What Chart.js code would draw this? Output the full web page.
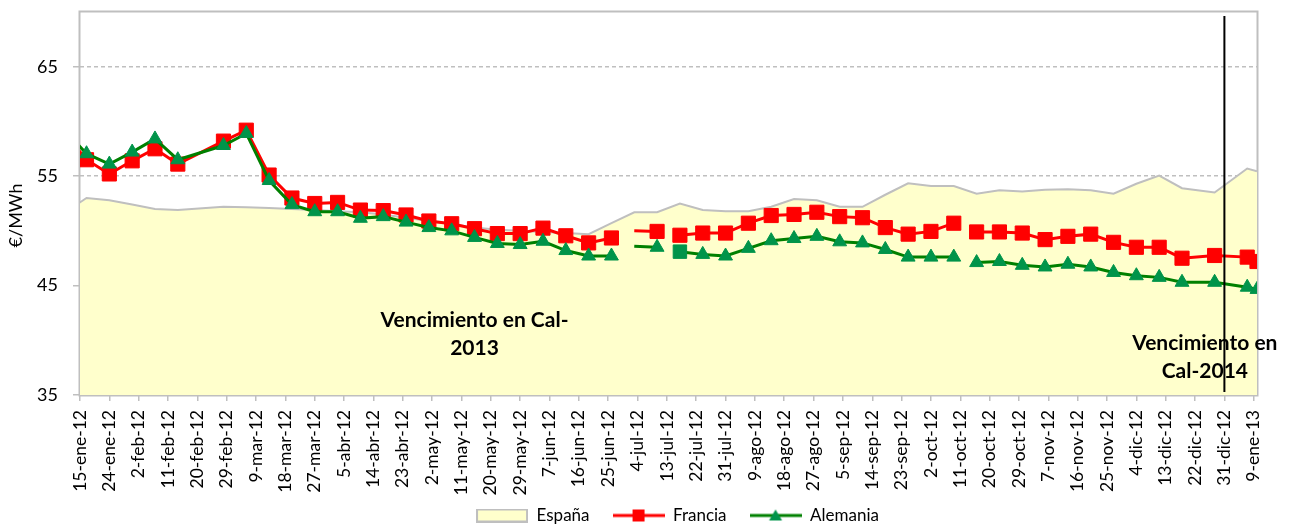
<!DOCTYPE html>
<html>
<head>
<meta charset="utf-8">
<title>Cal-13 España / Francia / Alemania</title>
<script src="https://cdn.jsdelivr.net/npm/chart.js@4.4.1/dist/chart.umd.min.js"></script>
<style>
  html, body { margin: 0; padding: 0; background: #ffffff; }
  #wrap { width: 1289px; height: 526px; }
</style>
</head>
<body>
<div id="wrap"><canvas id="grafico" width="1289" height="526"></canvas></div>
<script>
// Fechas de cotizacion (la primera queda fuera del eje, los null cortan la linea)
var fechas = [
  '10-ene-12', '17-ene-12', '24-ene-12', '31-ene-12', '7-feb-12', '14-feb-12',
  '28-feb-12', '6-mar-12', '13-mar-12', '20-mar-12', '27-mar-12', '3-abr-12',
  '10-abr-12', '17-abr-12', '24-abr-12', '1-may-12', '8-may-12', '15-may-12',
  '22-may-12', '29-may-12', '5-jun-12', '12-jun-12', '19-jun-12', '26-jun-12',
  '29-jun-12', '3-jul-12', '10-jul-12', '13-jul-12', '17-jul-12', '24-jul-12',
  '31-jul-12', '7-ago-12', '14-ago-12', '21-ago-12', '28-ago-12', '4-sep-12',
  '11-sep-12', '18-sep-12', '25-sep-12', '2-oct-12', '9-oct-12', '12-oct-12',
  '16-oct-12', '23-oct-12', '30-oct-12', '6-nov-12', '13-nov-12', '20-nov-12',
  '27-nov-12', '4-dic-12', '11-dic-12', '18-dic-12', '28-dic-12', '7-ene-13',
  '10-ene-13'
];

var espana = [
  51.6, 53.0, 52.8, 52.4, 52.0, 51.9,
  52.2, 52.15, 52.1, 52.0, 51.9, 51.8,
  51.7, 51.5, 51.2, 50.9, 50.6, 50.3,
  50.1, 50.0, 49.9, 49.8, 49.7, 50.7,
  null, 51.7, 51.7, null, 52.5, 51.9,
  51.8, 51.8, 52.2, 52.9, 52.8, 52.2,
  52.2, 53.3, 54.35, 54.1, 54.1, null,
  53.4, 53.7, 53.6, 53.75, 53.8, 53.7,
  53.4, 54.3, 55.05, 53.9, 53.5, 55.7,
  55.45
];

var francia = [
  59.0, 56.5, 55.2, 56.4, 57.5, 56.1,
  58.2, 59.2, 55.1, 53.0, 52.5, 52.6,
  51.9, 51.85, 51.45, 50.9, 50.65, 50.2,
  49.75, 49.75, 50.25, 49.55, 48.9, 49.35,
  null, 50.0, 49.95, null, 49.6, 49.8,
  49.8, 50.7, 51.4, 51.5, 51.7, 51.3,
  51.2, 50.3, 49.7, 49.95, 50.7, null,
  49.9, 49.9, 49.8, 49.2, 49.5, 49.7,
  48.95, 48.5, 48.5, 47.5, 47.75, 47.6,
  47.2
];

var alemania = [
  59.3, 57.05, 56.1, 57.2, 58.4, 56.5,
  57.8, 58.9, 54.6, 52.4, 51.75, 51.75,
  51.15, 51.3, 50.8, 50.3, 50.0, 49.4,
  48.85, 48.75, 49.05, 48.2, 47.7, 47.7,
  null, 48.6, 48.5, null, 48.1, 47.85,
  47.7, 48.4, 49.1, 49.3, 49.5, 49.0,
  48.9, 48.3, 47.6, 47.6, 47.6, null,
  47.1, 47.2, 46.85, 46.7, 46.95, 46.7,
  46.2, 45.9, 45.75, 45.3, 45.3, 44.85,
  44.65
];

var etiquetasEje = [
  '15-ene-12', '24-ene-12', '2-feb-12', '11-feb-12', '20-feb-12', '29-feb-12',
  '9-mar-12', '18-mar-12', '27-mar-12', '5-abr-12', '14-abr-12', '23-abr-12',
  '2-may-12', '11-may-12', '20-may-12', '29-may-12', '7-jun-12', '16-jun-12',
  '25-jun-12', '4-jul-12', '13-jul-12', '22-jul-12', '31-jul-12', '9-ago-12',
  '18-ago-12', '27-ago-12', '5-sep-12', '14-sep-12', '23-sep-12', '2-oct-12',
  '11-oct-12', '20-oct-12', '29-oct-12', '7-nov-12', '16-nov-12', '25-nov-12',
  '4-dic-12', '13-dic-12', '22-dic-12', '31-dic-12', '9-ene-13'
];
var finEje = '10-ene-13';
var valoresEjeY = [35, 45, 55, 65];

var sinMarcador = ['3-jul-12'];
var marcadorCuadrado = ['17-jul-12'];
var finCal2013 = '31-dic-12';

var notas = [
  { lineas: ['Vencimiento en Cal-', '2013'], fecha: '15-may-12', valores: [41.85, 39.3] },
  { lineas: ['Vencimiento en', 'Cal-2014'], fecha: '25-dic-12', valores: [39.75, 37.2] }
];

var meses = { ene: 0, feb: 1, mar: 2, abr: 3, may: 4, jun: 5, jul: 6, ago: 7, sep: 8, oct: 9, nov: 10, dic: 11 };
var origen = Date.UTC(2012, 0, 15);
var FUENTE = 'Lato, "Open Sans", sans-serif';
var DESPLAZA_LEYENDA = 9;

function aDia(txt) {
  var p = txt.split('-');
  var t = Date.UTC(2000 + parseInt(p[2], 10), meses[p[1]], parseInt(p[0], 10));
  return Math.round((t - origen) / 86400000);
}

function serie(valores) {
  return fechas.map(function(f, i) {
    return { x: aDia(f), y: valores[i] };
  });
}

// iconos de la leyenda (linea + marcador)
function icono(tipo) {
  var c = document.createElement('canvas');
  c.width = 52;
  c.height = 14;
  var g = c.getContext('2d');
  if (tipo === 'area') {
    g.fillStyle = '#FFFFCC';
    g.fillRect(1, 1, 50, 12);
    g.strokeStyle = '#BFBFBF';
    g.lineWidth = 2;
    g.strokeRect(1, 1, 50, 12);
    return c;
  }
  var color = tipo === 'cuadro' ? '#FF0000' : '#008000';
  g.strokeStyle = color;
  g.lineWidth = 3;
  g.beginPath();
  g.moveTo(0, 7);
  g.lineTo(52, 7);
  g.stroke();
  if (tipo === 'cuadro') {
    g.fillStyle = '#FF0000';
    g.fillRect(20, 1, 12, 12);
  } else {
    g.fillStyle = '#00944A';
    g.beginPath();
    g.moveTo(26, 1);
    g.lineTo(32.5, 12);
    g.lineTo(19.5, 12);
    g.closePath();
    g.fill();
  }
  return c;
}
var iconos = [icono('area'), icono('cuadro'), icono('triangulo')];

var adornos = {
  id: 'adornos',
  afterLayout: function(chart) {
    chart.legend.left += DESPLAZA_LEYENDA;
    chart.legend.right += DESPLAZA_LEYENDA;
    // las fechas del eje pueden bajar hasta el borde (sin recorte)
    chart.scales.x.bottom = chart.height;
  },
  beforeDatasetsDraw: function(chart) {
    var a = chart.chartArea;
    var ctx = chart.ctx;
    ctx.save();
    ctx.strokeStyle = '#BFBFBF';
    ctx.lineWidth = 2;
    ctx.strokeRect(a.left - 0.5, a.top - 0.5, a.right - a.left + 1, a.bottom - a.top + 1);
    ctx.restore();
  },
  afterDatasetsDraw: function(chart) {
    var a = chart.chartArea;
    var ctx = chart.ctx;
    var xs = chart.scales.x;
    var ys = chart.scales.y;
    var xv = xs.getPixelForValue(aDia(finCal2013));
    ctx.save();
    ctx.strokeStyle = '#000000';
    ctx.lineWidth = 2;
    ctx.beginPath();
    ctx.moveTo(xv, a.top + 4);
    ctx.lineTo(xv, a.bottom - 3);
    ctx.stroke();

    ctx.fillStyle = '#000000';
    ctx.font = 'bold 21px ' + FUENTE;
    ctx.textAlign = 'center';
    ctx.textBaseline = 'middle';
    notas.forEach(function(n) {
      var x = xs.getPixelForValue(aDia(n.fecha));
      n.lineas.forEach(function(t, i) {
        ctx.fillText(t, x, ys.getPixelForValue(n.valores[i]));
      });
    });

    // titulo del eje Y
    ctx.font = '18px ' + FUENTE;
    ctx.translate(16, (a.top + a.bottom) / 2 + 12);
    ctx.rotate(-Math.PI / 2);
    ctx.fillText('€/MWh', 0, 0);
    ctx.restore();
  }
};

new Chart(document.getElementById('grafico'), {
  type: 'line',
  data: {
    datasets: [{
      label: 'España',
      data: serie(espana),
      borderColor: '#BFBFBF',
      borderWidth: 2,
      backgroundColor: '#FFFFCC',
      fill: 'start',
      pointRadius: 0,
      spanGaps: true,
      order: 3
    }, {
      label: 'Francia',
      data: serie(francia),
      borderColor: '#FF0000',
      borderWidth: 3,
      pointStyle: 'rect',
      pointRadius: fechas.map(function(f) { return sinMarcador.indexOf(f) >= 0 ? 0 : 10; }),
      pointBackgroundColor: '#FF0000',
      pointBorderColor: '#FF0000',
      pointBorderWidth: 1,
      spanGaps: false,
      order: 2
    }, {
      label: 'Alemania',
      data: serie(alemania),
      borderColor: '#008000',
      borderWidth: 3,
      pointStyle: fechas.map(function(f) { return marcadorCuadrado.indexOf(f) >= 0 ? 'rect' : 'triangle'; }),
      pointRadius: fechas.map(function(f) {
        if (sinMarcador.indexOf(f) >= 0) return 0;
        return marcadorCuadrado.indexOf(f) >= 0 ? 9.5 : 8;
      }),
      pointBackgroundColor: '#00944A',
      pointBorderColor: '#00944A',
      pointBorderWidth: 1,
      spanGaps: false,
      order: 1
    }]
  },
  options: {
    responsive: false,
    animation: false,
    devicePixelRatio: 1,
    events: [],
    layout: { padding: { top: 12, right: 32, bottom: -8, left: 0 } },
    plugins: {
      tooltip: { enabled: false },
      legend: {
        position: 'bottom',
        fullSize: false,
        labels: {
          usePointStyle: true,
          pointStyleWidth: 52,
          padding: 23,
          color: '#000000',
          font: { family: FUENTE, size: 17 },
          generateLabels: function(chart) {
            return chart.data.datasets.map(function(ds, i) {
              return {
                text: ds.label,
                pointStyle: iconos[i],
                datasetIndex: i,
                hidden: false,
                lineWidth: 0,
                fillStyle: 'rgba(0,0,0,0)',
                strokeStyle: 'rgba(0,0,0,0)'
              };
            });
          }
        }
      }
    },
    scales: {
      x: {
        type: 'linear',
        min: 0,
        max: aDia(finEje),
        afterBuildTicks: function(s) {
          s.ticks = etiquetasEje.map(function(l) { return { value: aDia(l) }; });
        },
        afterFit: function(s) {
          s.height = 89;
          s.paddingLeft = 0;
          s.paddingRight = 0;
        },
        ticks: {
          autoSkip: false,
          minRotation: 90,
          maxRotation: 90,
          padding: 9,
          color: '#000000',
          font: { family: FUENTE, size: 17.5 },
          callback: function(v, i) { return etiquetasEje[i]; }
        },
        grid: {
          drawOnChartArea: false,
          drawTicks: true,
          tickLength: 6,
          color: '#BFBFBF',
          lineWidth: 1.5
        },
        border: { display: false }
      },
      y: {
        min: 35,
        max: 70,
        afterBuildTicks: function(s) {
          s.ticks = valoresEjeY.map(function(v) { return { value: v }; });
        },
        afterFit: function(s) {
          s.width = 80;
          s.paddingTop = 0;
          s.paddingBottom = 0;
        },
        ticks: {
          padding: 15,
          color: '#000000',
          font: { family: FUENTE, size: 18 }
        },
        grid: {
          color: '#BFBFBF',
          lineWidth: 1.5,
          tickLength: 7,
          tickColor: '#BFBFBF'
        },
        border: { display: false, dash: [4, 3] }
      }
    }
  },
  plugins: [adornos]
});
</script>
</body>
</html>
